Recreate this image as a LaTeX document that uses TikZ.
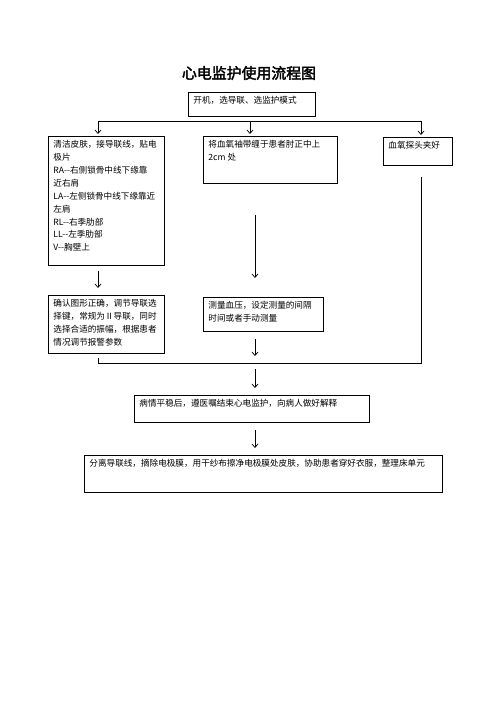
\documentclass[tikz,border=0pt]{standalone}
\usepackage{fontspec}
\usepackage{tikz}
\usetikzlibrary{arrows.meta}
\newfontfamily\cjk{Noto Sans CJK SC}
\newfontfamily\cjktitle[FakeBold=2.5]{Noto Sans CJK SC}
\newcommand{\boxtext}[3]{\parbox[t][#2][t]{#1}{\cjk\fontsize{8.6}{12.9}\selectfont #3}}
\newcommand{\dd}{-\kern0pt-}

\begin{document}
\begin{tikzpicture}[x=1pt, y=-1pt, >={Straight Barb[length=3.5pt,width=6pt]},
  box/.style={draw, line width=0.9pt, anchor=north west, inner xsep=5pt, inner ysep=4pt},
  link/.style={line width=0.7pt}]
  \useasboundingbox (0,0) rectangle (496,702);

  \node (T) at (249,73) {\cjktitle\fontsize{14.9}{16}\selectfont 心电监护使用流程图};

  \node[box] (A) at (188,92) {\boxtext{117pt}{16pt}{开机，选导联、选监护模式}};

  \node[box] (B) at (48,136) {\boxtext{106pt}{121pt}{清洁皮肤，接导联线，贴电\\极片\\
    RA\dd 右侧锁骨中线下缘靠\\近右肩\\LA\dd 左侧锁骨中线下缘靠近\\左肩\\
    RL\dd 右季肋部\\LL\dd 左季肋部\\V\dd 胸壁上}};
  \node[box] (C) at (48,295) {\boxtext{106pt}{50pt}{确认图形正确，调节导联选\\择键，常规为Ⅱ导联，同时\\
    选择合适的振幅，根据患者\\情况调节报警参数}};

  \node[box] (D) at (203,136) {\boxtext{124pt}{39pt}{将血氧袖带缠于患者肘正中上\\2cm 处}};
  \node[box] (E) at (203,297) {\boxtext{110pt}{26pt}{测量血压，设定测量的间隔\\时间或者手动测量}};

  \node[box] (F) at (383,137) {\boxtext{59pt}{20pt}{血氧探头夹好}};

  \node[box] (G) at (134,395) {\boxtext{225pt}{19pt}{病情平稳后，遵医嘱结束心电监护，向病人做好解释}};
  \node[box] (H) at (84,455) {\boxtext{348pt}{29pt}{分离导联线，摘除电极膜，用干纱布擦净电极膜处皮肤，协助患者穿好衣服，整理床单元}};

  \coordinate (L) at (98,121);
  \coordinate (M) at (250,121);
  \coordinate (R) at (421,121);
  \coordinate (J) at (255,363);

  \draw[link] (L) -- (R);
  \draw[link, ->, shorten >=2pt] (L) to (B.north -| L);
  \draw[link, ->, shorten >=2pt] (M) to (D.north -| M);
  \draw[link, ->, shorten >=2pt] (R) to (F.north -| R);

  \draw[link, ->, shorten <=5pt, shorten >=7pt] (B.south -| L) to (C.north -| L);
  \draw[link, ->, shorten <=31pt, shorten >=19pt] (D.south -| J) to (E.north -| J);

  \draw[link, shorten <=4pt, shorten >=11pt] (C.south -| L) |- (J -| R) -- (F.south -| R);
  \draw[link, ->, shorten <=7pt, shorten >=7pt] (E.south -| J) to (J);
  \draw[link, ->, shorten <=6pt, shorten >=7pt] (J) to (G.north -| J);
  \draw[link, ->, shorten <=7pt, shorten >=7pt] (G.south -| J) to (H.north -| J);
\end{tikzpicture}
\end{document}
